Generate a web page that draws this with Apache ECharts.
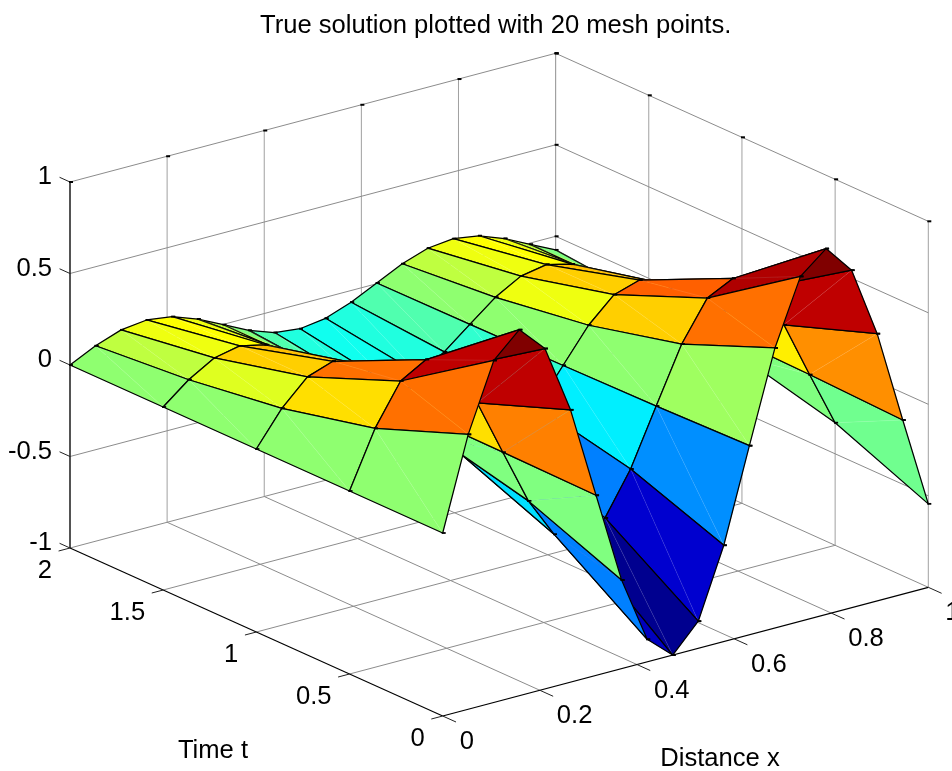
<!DOCTYPE html>
<html>
<head>
<meta charset="utf-8">
<style>html,body{margin:0;padding:0;background:#fff}#chart{width:952px;height:771px}</style>
<script src="https://cdn.jsdelivr.net/npm/echarts@6/dist/echarts.min.js"></script>
</head>
<body>
<div id="chart"></div>
<script>
// ---- data ----
var titleText = 'True solution plotted with 20 mesh points.';
var xName = 'Distance x';
var tName = 'Time t';
var xMesh = [0,0.0526,0.1053,0.1579,0.2105,0.2632,0.3158,0.3684,0.4211,0.4737,0.5263,0.5789,0.6316,0.6842,0.7368,0.7895,0.8421,0.8947,0.9474,1];
var tMesh = [0,0.5,1,1.5,2];
var uT0  = [0,0.502,0.869,1.000,0.860,0.488,-0.016,-0.516,-0.877,-1.000,-0.852,-0.474,0.033,0.530,0.884,0.999,0.844,0.460,-0.049,-0.544];
var uT05 = [0,0.305,0.527,0.607,0.522,0.296,-0.010,-0.313,-0.532,-0.606,-0.517,-0.287,0.020,0.322,0.536,0.606,0.512,0.279,-0.030,-0.330];
var uT1  = [0,0.185,0.320,0.368,0.317,0.180,-0.006,-0.190,-0.323,-0.368,-0.313,-0.174,0.012,0.195,0.325,0.368,0.310,0.169,-0.018,-0.200];
var uT15 = [0,0.112,0.194,0.223,0.192,0.109,-0.004,-0.115,-0.196,-0.223,-0.190,-0.106,0.007,0.118,0.197,0.223,0.188,0.103,-0.011,-0.121];
var uT2  = [0,0.068,0.118,0.135,0.116,0.066,-0.002,-0.070,-0.119,-0.135,-0.115,-0.064,0.004,0.072,0.120,0.135,0.114,0.062,-0.007,-0.074];
var xTicks = [0,0.2,0.4,0.6,0.8,1];
var tTicks = [0,0.5,1,1.5,2];
var zTicks = [-1,-0.5,0,0.5,1];
var xTickLabels = ['0','0.2','0.4','0.6','0.8','1'];
var tTickLabels = ['0','0.5','1','1.5','2'];
var zTickLabels = ['-1','-0.5','0','0.5','1'];

var uGrid = [uT0, uT05, uT1, uT15, uT2];
var FONT = '"Liberation Sans", Arial, sans-serif';
var FONT_SIZE = 25.6;
var GRID_COLOR = '#8c8c8c';
var WALL_V_COLOR = '#a0a0a0';

// view-plane projection of the MATLAB default 3-D view
function project(x, t, z) {
  return [442.7 + 485.6 * x - 186.35 * t, 716 - 128.7 * x - 84 * t - 183 * (z + 1)];
}

// jet(64) colormap
function jet(v, vmin, vmax) {
  var r = Math.min(64, Math.floor((v - vmin) / (vmax - vmin) * 64) + 1);
  var R = r <= 24 ? 0 : r <= 40 ? (r - 24) / 16 : r <= 56 ? 1 : 1 - (r - 56) / 16;
  var G = r <= 8 ? 0 : r <= 24 ? (r - 8) / 16 : r <= 40 ? 1 : r <= 56 ? 1 - (r - 40) / 16 : 0;
  var B = r <= 8 ? (r + 8) / 16 : r <= 24 ? 1 : r <= 40 ? 1 - (r - 24) / 16 : 0;
  return 'rgb(' + Math.round(R * 255) + ',' + Math.round(G * 255) + ',' + Math.round(B * 255) + ')';
}
var uMin = Math.min.apply(null, uT0), uMax = Math.max.apply(null, uT0);

// ---- box, grid lines, ticks: 3-D segments ----
var segments = []; // [x1,t1,z1,x2,t2,z2,kind]
var xMax = xTicks[xTicks.length - 1], tMax = tTicks[tTicks.length - 1];
var zMin = zTicks[0], zMax = zTicks[zTicks.length - 1];
xTicks.forEach(function (x, k) {
  if (k > 0 && k < xTicks.length - 1) segments.push([x, 0, zMin, x, tMax, zMin, 'grid']);
  segments.push([x, tMax, zMin, x, tMax, zMax, 'wall']);
});
tTicks.forEach(function (t, k) {
  if (k > 0 && k < tTicks.length - 1) segments.push([0, t, zMin, xMax, t, zMin, 'grid']);
  segments.push([xMax, t, zMin, xMax, t, zMax, 'wall']);
});
zTicks.forEach(function (z, k) {
  segments.push([0, tMax, z, xMax, tMax, z, 'grid']);
  segments.push([xMax, tMax, z, xMax, 0, z, 'grid']);
});
segments.push([0, 0, zMin, xMax, 0, zMin, 'axis']);
segments.push([0, 0, zMin, 0, tMax, zMin, 'axis']);
segments.push([0, tMax, zMin, 0, tMax, zMax, 'axis']);

// tick marks
var xTickDir = -0.0715, tTickDir = -0.0235;
xTicks.forEach(function (x) { segments.push([x, 0, zMin, x, xTickDir, zMin, 'tick']); });
tTicks.forEach(function (t) { segments.push([0, t, zMin, tTickDir, t, zMin, 'tick']); });
zTicks.forEach(function (z) { segments.push([0, tMax, z, 0, tMax + 0.056, z, 'tick']); });

// small corner dashes at the ends of the wall lines
var dashes = [];
xTicks.forEach(function (x) { dashes.push([x, tMax, zMax]); });
tTicks.forEach(function (t) { dashes.push([xMax, t, zMax]); });
zTicks.forEach(function (z) { dashes.push([xMax, tMax, z]); });
dashes.push([xMax, tMax, zMin]);

// ---- surface faces in far-to-near order ----
var faces = [];
for (var j = tMesh.length - 2; j >= 0; j--) {
  for (var i = xMesh.length - 2; i >= 0; i--) faces.push([i, j]);
}

// ---- labels ----
var labels = [];
xTicks.forEach(function (x, k) { labels.push([x, 0, zMin, xTickLabels[k], 'left', 17, 26]); });
tTicks.forEach(function (t, k) { labels.push([0, t, zMin, tTickLabels[k], 'right', -18, 23]); });
zTicks.forEach(function (z, k) { labels.push([0, tMax, z, zTickLabels[k], 'right', -18, -5]); });

function px(api, p) { return api.coord(p); }

var option = {
  animation: false,
  backgroundColor: '#ffffff',
  title: {
    text: titleText, left: 255, top: 8,
    textStyle: { fontFamily: FONT, fontSize: FONT_SIZE, fontWeight: 'normal', color: '#000' }
  },
  grid: { left: 0, right: 0, top: 0, bottom: 0 },
  xAxis: { type: 'value', min: 0, max: 952, show: false },
  yAxis: { type: 'value', min: 0, max: 771, inverse: true, show: false },
  tooltip: { show: false },
  series: [
    {
      type: 'custom', name: 'box', silent: true, z: 1, clip: false,
      data: segments.map(function (s, k) { return [k, 0]; }),
      renderItem: function (params, api) {
        var s = segments[api.value(0)];
        var a = px(api, project(s[0], s[1], s[2])), b = px(api, project(s[3], s[4], s[5]));
        var kind = s[6];
        return {
          type: 'line',
          shape: { x1: a[0], y1: a[1], x2: b[0], y2: b[1] },
          style: {
            stroke: kind === 'grid' ? GRID_COLOR : kind === 'wall' ? WALL_V_COLOR : kind === 'tick' ? '#222' : '#000',
            lineWidth: kind === 'axis' ? 1.2 : 1
          }
        };
      }
    },
    {
      type: 'custom', name: 'dashes', silent: true, z: 2, clip: false,
      data: dashes.map(function (s, k) { return [k, 0]; }),
      renderItem: function (params, api) {
        var s = dashes[api.value(0)];
        var a = px(api, project(s[0], s[1], s[2]));
        return {
          type: 'line',
          shape: { x1: a[0] - 1, y1: a[1], x2: a[0] + 3, y2: a[1] },
          style: { stroke: '#000', lineWidth: 2 }
        };
      }
    },
    {
      type: 'custom', name: 'surface', silent: true, z: 3, clip: false,
      data: faces,
      renderItem: function (params, api) {
        var i = api.value(0), j = api.value(1);
        var a = px(api, project(xMesh[i], tMesh[j], uGrid[j][i]));
        var b = px(api, project(xMesh[i + 1], tMesh[j], uGrid[j][i + 1]));
        var c = px(api, project(xMesh[i + 1], tMesh[j + 1], uGrid[j + 1][i + 1]));
        var d = px(api, project(xMesh[i], tMesh[j + 1], uGrid[j + 1][i]));
        var col = jet(uGrid[j][i], uMin, uMax);
        var kids = [
          { type: 'polygon', shape: { points: [a, b, c] }, style: { fill: col, stroke: col, lineWidth: 0.3 } },
          { type: 'polygon', shape: { points: [a, c, d] }, style: { fill: col, stroke: col, lineWidth: 0.3 } },
          { type: 'polygon', shape: { points: [a, b, c, d] }, style: { fill: 'none', stroke: '#000', lineWidth: 1.25, lineJoin: 'round' } },
          { type: 'line', shape: { x1: a[0], y1: a[1], x2: c[0], y2: c[1] }, style: { stroke: 'rgba(255,255,255,0.18)', lineWidth: 0.6 } }
        ];
        [a, b, c, d].forEach(function (p) {
          kids.push({ type: 'line', shape: { x1: p[0] - 1, y1: p[1], x2: p[0] + 3, y2: p[1] }, style: { stroke: '#000', lineWidth: 1.8 } });
        });
        return { type: 'group', children: kids };
      }
    },
    {
      type: 'custom', name: 'labels', silent: true, z: 4, clip: false,
      data: labels.map(function (s, k) { return [k, 0]; }),
      renderItem: function (params, api) {
        var s = labels[api.value(0)];
        var a = px(api, project(s[0], s[1], s[2]));
        return {
          type: 'text',
          style: {
            x: a[0] + s[5], y: a[1] + s[6], text: s[3], align: s[4], verticalAlign: 'middle',
            fill: '#000', font: FONT_SIZE + 'px ' + FONT
          }
        };
      }
    },
    {
      type: 'custom', name: 'axis names', silent: true, z: 4, clip: false,
      data: [[0, 0], [1, 0]],
      renderItem: function (params, api) {
        var isX = api.value(0) === 1;
        var a = isX ? px(api, [720, 759]) : px(api, [213, 751]);
        return {
          type: 'text',
          style: {
            x: a[0], y: a[1], text: isX ? xName : tName, align: 'center', verticalAlign: 'middle',
            fill: '#000', font: FONT_SIZE + 'px ' + FONT
          }
        };
      }
    }
  ]
};
var chart = echarts.init(document.getElementById('chart'), null, { renderer: 'canvas' });
chart.setOption(option);
</script>
</body>
</html>
